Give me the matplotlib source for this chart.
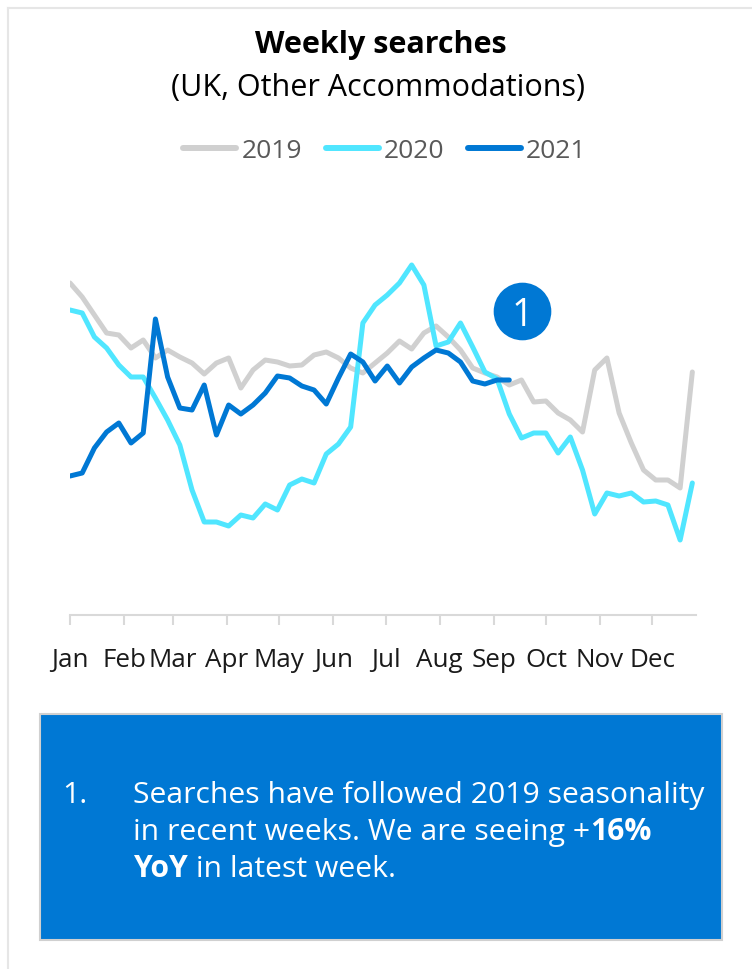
import matplotlib.pyplot as plt
from matplotlib.lines import Line2D
from matplotlib.patches import Rectangle
import numpy as np

plt.rcParams["font.family"] = ["Open Sans", "DejaVu Sans"]

# weekly search index, one value per week
searches_2019 = [332, 318, 300, 282, 280, 267, 275, 257, 265, 258, 252, 241, 252,
                 257, 227, 245, 255, 253, 249, 250, 260, 263, 257, 247, 242, 252,
                 262, 274, 266, 282, 289, 278, 265, 247, 242, 238, 230, 235, 213,
                 214, 202, 195, 183, 245, 257, 202, 172, 145, 135, 135, 127, 243]
searches_2020 = [305, 302, 278, 267, 250, 238, 238, 217, 195, 170, 125, 93, 93,
                 89, 100, 97, 111, 105, 130, 136, 132, 161, 171, 188, 292, 310,
                 320, 332, 350, 330, 269, 273, 292, 268, 243, 236, 201, 177, 182,
                 182, 162, 178, 145, 101, 122, 119, 122, 113, 114, 110, 75, 132]
searches_2021 = [139, 142, 167, 183, 192, 172, 182, 296, 238, 207, 205, 230, 180,
                 210, 201, 210, 222, 239, 237, 229, 225, 211, 237, 261, 253, 234,
                 249, 232, 248, 257, 265, 262, 253, 234, 231, 235, 235]

years = ["2019", "2020", "2021"]
colors = ["#D0D0D0", "#50E6FF", "#0078D4"]
months = ["Jan", "Feb", "Mar", "Apr", "May", "Jun",
          "Jul", "Aug", "Sep", "Oct", "Nov", "Dec"]
month_start_day = [0, 31, 59, 90, 120, 151, 181, 212, 243, 273, 304, 334]

# callout marker position (week, index)
callout_week = 37.05
callout_value = 304

W, H = 752, 969
fig = plt.figure(figsize=(W / 100, H / 100), dpi=100)


def fx(px):
    return px / W


def fy(py):
    return 1 - py / H


ax = fig.add_axes([fx(70), fy(615), (696 - 70) / W, 400 / H])
for vals, c, lab in zip([searches_2019, searches_2020, searches_2021], colors, years):
    ax.plot(np.arange(len(vals)), vals, color=c, lw=3.6, label=lab,
            solid_joinstyle="round", solid_capstyle="round")

ax.set_xlim(0, 51.3)
ax.set_ylim(0, 400)
for side in ["top", "right", "left"]:
    ax.spines[side].set_visible(False)
ax.spines["bottom"].set_color("#D9D9D9")
ax.spines["bottom"].set_linewidth(1.5)
ax.set_yticks([])
ax.set_xticks(np.array(month_start_day) / 7)
ax.set_xticklabels(months)
ax.tick_params(axis="x", length=7, width=1.5, color="#D9D9D9", pad=17,
               labelsize=18.7, labelcolor="#1A1A1A")

# numbered callout
ax.scatter([callout_week], [callout_value], s=41.5 ** 2, color="#0078D4",
           linewidths=0, zorder=5)
ax.text(callout_week, callout_value, "1", color="white", fontsize=27,
        ha="center", va="center_baseline", zorder=6)

# titles
fig.text(fx(381), fy(53), "Weekly searches", ha="center", va="baseline",
         fontsize=22, fontweight="bold", color="black")
fig.text(fx(378.5), fy(96), "(UK, Other Accommodations)", ha="center",
         va="baseline", fontsize=22, color="black")

# legend
handles = [Line2D([], [], color=c, lw=4.3, solid_capstyle="round") for c in colors]
fig.legend(handles, years, loc="center", bbox_to_anchor=(fx(385), fy(151)),
           ncol=3, frameon=False, fontsize=19, handlelength=2.0,
           handletextpad=0.2, columnspacing=0.9, labelcolor="#595959")

# outer frame lines
fig.add_artist(Line2D([fx(8), 1], [fy(7.5), fy(7.5)], transform=fig.transFigure,
                      color="#E6E6E6", lw=1.5))
fig.add_artist(Line2D([fx(8), fx(8)], [fy(7.5), 0], transform=fig.transFigure,
                      color="#E6E6E6", lw=1.5))

# commentary box
fig.add_artist(Rectangle((fx(40), fy(940)), (722 - 40) / W, (940 - 714) / H,
                         transform=fig.transFigure, facecolor="#0078D4",
                         edgecolor="#D0D0D0", lw=1.5))

renderer = fig.canvas.get_renderer()


def text_run(x, baseline, parts, size=21.7):
    for s, weight in parts:
        t = fig.text(fx(x), fy(baseline), s, fontsize=size, fontweight=weight,
                     color="white", ha="left", va="baseline")
        x += t.get_window_extent(renderer).width


text_run(62, 803, [("1.", "normal")])
text_run(133, 803, [("Searches have followed 2019 seasonality", "normal")])
text_run(133, 840, [("in recent weeks. We are seeing +", "normal"), ("16%", "bold")])
text_run(133, 877, [("YoY", "bold"), (" in latest week.", "normal")])

fig.savefig("out.png", dpi=100)
